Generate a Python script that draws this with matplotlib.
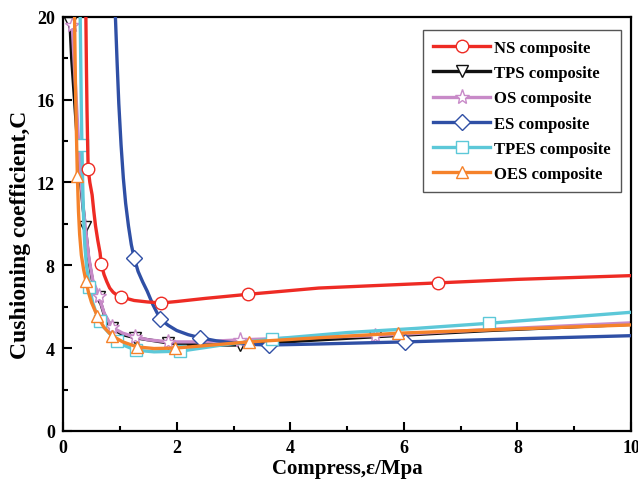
import numpy as np
import matplotlib
matplotlib.use("Agg")
import matplotlib.pyplot as plt

plt.rcParams['font.family'] = ['Liberation Serif', 'DejaVu Serif']
plt.rcParams['font.weight'] = 'bold'

# NS composite
ns_x = [0.40, 0.41, 0.42, 0.43, 0.44, 0.47, 0.51, 0.54, 0.57, 0.61, 0.65, 0.67, 0.72, 0.77, 0.82, 0.88, 0.95,
        1.02, 1.25, 1.48, 1.73, 2.0, 2.5, 3.26, 4.5, 5.5, 6.6, 8.0, 10.0]
ns_y = [20.0, 17.5, 15.5, 14.0, 12.66, 12.0, 11.4, 10.6, 9.9, 9.2, 8.6, 8.07, 7.55, 7.2, 6.9, 6.7, 6.55,
        6.47, 6.3, 6.23, 6.18, 6.25, 6.4, 6.6, 6.9, 7.02, 7.15, 7.32, 7.5]
ns_mk = [0.44, 0.67, 1.02, 1.73, 3.26, 6.6]

# TPS composite
tps_x = [0.12, 0.15, 0.20, 0.25, 0.30, 0.35, 0.39, 0.45, 0.52, 0.63, 0.72, 0.86, 1.05, 1.27, 1.85, 2.4,
         3.12, 4.2, 5.49, 7.5, 10.0]
tps_y = [19.7, 18.0, 16.0, 14.0, 12.2, 10.8, 9.85, 8.3, 7.2, 6.45, 5.65, 4.95, 4.65, 4.5, 4.25, 4.15,
         4.15, 4.35, 4.55, 4.85, 5.15]
tps_mk = [0.12, 0.39, 0.63, 0.86, 1.27, 1.85, 3.12, 5.49]

# OS composite
os_x = [0.16, 0.19, 0.23, 0.27, 0.31, 0.35, 0.39, 0.45, 0.52, 0.63, 0.72, 0.86, 1.05, 1.27, 1.5, 1.85,
        2.4, 3.12, 4.2, 5.49, 7.5, 10.0]
os_y = [19.6, 18.0, 16.0, 14.0, 12.2, 10.9, 9.85, 8.4, 7.3, 6.5, 5.7, 5.0, 4.72, 4.54, 4.4, 4.3,
        4.3, 4.4, 4.5, 4.6, 4.9, 5.22]
os_mk = [0.16, 0.63, 0.86, 1.27, 1.85, 3.12, 5.49]

# ES composite
es_x = [0.92, 0.95, 0.98, 1.02, 1.06, 1.10, 1.15, 1.20, 1.25, 1.32, 1.40, 1.48, 1.58, 1.71, 1.85, 2.0,
        2.2, 2.41, 2.7, 3.0, 3.3, 3.63, 4.5, 6.02, 8.0, 10.0]
es_y = [20.0, 17.8, 15.8, 13.8, 12.2, 11.0, 9.9, 9.0, 8.36, 7.7, 7.2, 6.75, 6.1, 5.4, 5.1, 4.85,
        4.65, 4.5, 4.35, 4.25, 4.18, 4.15, 4.2, 4.3, 4.45, 4.6]
es_mk = [1.25, 1.71, 2.41, 3.63, 6.02]

# TPES composite
tpes_x = [0.30, 0.32, 0.33, 0.345, 0.36, 0.38, 0.41, 0.46, 0.52, 0.58, 0.65, 0.72, 0.80, 0.95, 1.1, 1.28,
          1.6, 2.06, 2.8, 3.68, 5.0, 6.2, 7.5, 10.0]
tpes_y = [20.0, 15.5, 13.8, 11.8, 10.3, 9.0, 8.0, 6.96, 6.2, 5.7, 5.3, 5.0, 4.75, 4.35, 4.1, 3.9,
          3.82, 3.85, 4.15, 4.44, 4.75, 4.95, 5.2, 5.73]
tpes_mk = [0.33, 0.46, 0.65, 0.95, 1.28, 2.06, 3.68, 7.5]

# OES composite
oes_x = [0.20, 0.215, 0.23, 0.25, 0.27, 0.29, 0.32, 0.36, 0.40, 0.45, 0.50, 0.60, 0.72, 0.86, 1.05, 1.30,
         1.6, 1.97, 2.5, 3.27, 4.5, 5.9, 8.0, 10.0]
oes_y = [20.0, 17.0, 14.8, 12.3, 10.6, 9.5, 8.5, 7.8, 7.25, 6.65, 6.2, 5.56, 5.0, 4.6, 4.3, 4.06,
         3.98, 4.0, 4.12, 4.3, 4.5, 4.72, 4.93, 5.12]
oes_mk = [0.25, 0.40, 0.60, 0.86, 1.30, 1.97, 3.27, 5.9]

series = [
    ("NS composite", ns_x, ns_y, ns_mk, '#ee2b24', 'o', 6),
    ("TPS composite", tps_x, tps_y, tps_mk, '#111111', 'v', 1),
    ("OS composite", os_x, os_y, os_mk, '#c88ac8', '*', 2),
    ("ES composite", es_x, es_y, es_mk, '#2f4fa5', 'D', 3),
    ("TPES composite", tpes_x, tpes_y, tpes_mk, '#5cc8d8', 's', 4),
    ("OES composite", oes_x, oes_y, oes_mk, '#f5822a', '^', 5),
]

fig = plt.figure(figsize=(6.38, 4.81), dpi=100)
ax = fig.add_axes([0.099, 0.102, 0.890, 0.861])

for label, x, y, mk, col, m, z in series:
    idx = [int(np.argmin(np.abs(np.array(x) - v))) for v in mk]
    ms = {'*': 11, 'D': 8.5, 's': 8.5}.get(m, 9)
    ax.plot(x, y, color=col, lw=2.4, marker=m, markevery=idx, ms=ms,
            mfc='white', mec=col, mew=1.0, label=label, zorder=z)

ax.set_xlim(0, 10)
ax.set_ylim(0, 20)
ax.set_xticks([0, 2, 4, 6, 8, 10])
ax.set_xticks(np.arange(0, 11, 1), minor=True)
ax.set_yticks([0, 4, 8, 12, 16, 20])
ax.set_yticks(np.arange(0, 21, 2), minor=True)
ax.tick_params(which='major', direction='in', length=6.5, width=1.5, labelsize=13, pad=6)
ax.tick_params(which='minor', direction='in', length=3.5, width=1.5)
ax.tick_params(top=False, right=False)
for s in ax.spines.values():
    s.set_linewidth(1.6)

ax.set_xlabel("Compress,ε/Mpa", fontsize=15, fontweight='bold')
ax.set_ylabel("Cushioning coefficient,C", fontsize=17, fontweight='bold')
ax.xaxis.set_label_coords(0.5, -0.066)
ax.yaxis.set_label_coords(-0.056, 0.475)

leg = ax.legend(loc='upper right', bbox_to_anchor=(0.982, 0.968), borderaxespad=0,
                handlelength=3.4, labelspacing=0.55, borderpad=0.6,
                handletextpad=0.25, fancybox=False, framealpha=1,
                edgecolor='#555555', prop={'weight': 'bold', 'size': 12})
leg.get_frame().set_linewidth(1.0)

fig.savefig("out.png", dpi=100)
